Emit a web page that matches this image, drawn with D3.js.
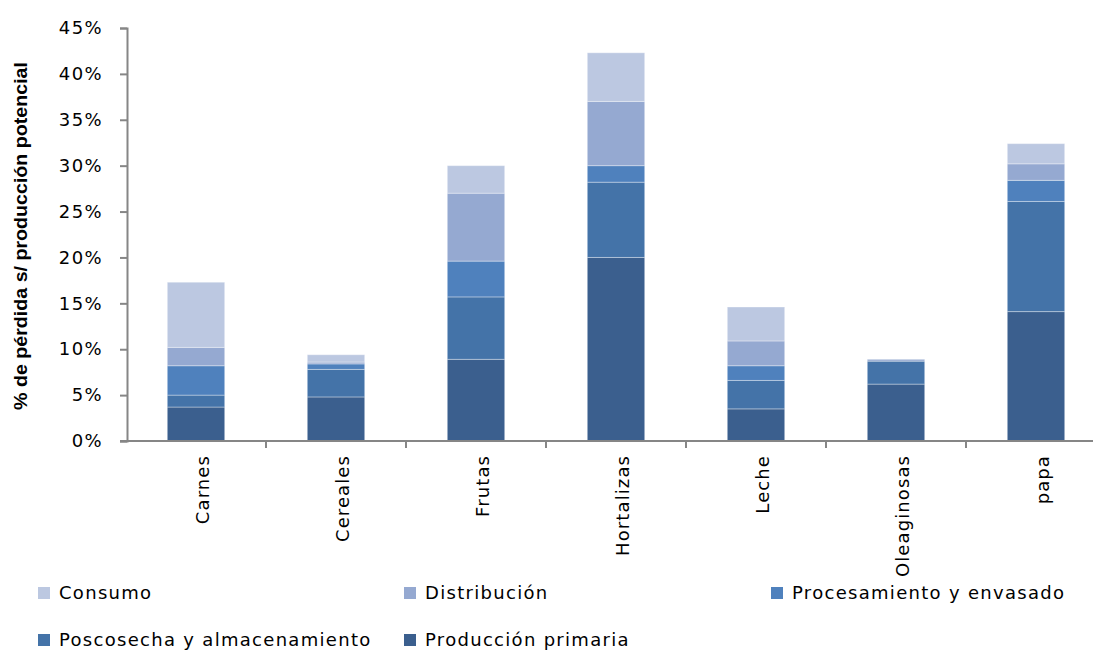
<!DOCTYPE html>
<html>
<head>
<meta charset="utf-8">
<script src="https://cdn.jsdelivr.net/npm/d3@7"></script>
<style>
  body { margin: 0; background: #fff; }
  svg { display: block; }
  .tick text { font-family: "DejaVu Sans", sans-serif; fill: #000; }
</style>
</head>
<body>
<div id="chart"></div>
<script>
const categories = ["Carnes", "Cereales", "Frutas", "Hortalizas", "Leche", "Oleaginosas", "papa"];
// values in % of potential production, bottom to top of each bar
const produccion    = [3.7, 4.8, 8.9, 20.0, 3.5, 6.2, 14.1];
const poscosecha    = [1.3, 3.0, 6.8, 8.2, 3.1, 2.5, 12.0];
const procesamiento = [3.2, 0.6, 3.9, 1.8, 1.6, 0.0, 2.3];
const distribucion  = [2.0, 0.2, 7.4, 7.0, 2.7, 0.2, 1.8];
const consumo       = [7.1, 0.8, 3.0, 5.3, 3.7, 0.0, 2.2];
const yTicks = [0, 5, 10, 15, 20, 25, 30, 35, 40, 45];

const series = [
    { key: "prod", label: "Producción primaria", values: produccion, color: "#3b5f8e" },
    { key: "posc", label: "Poscosecha y almacenamiento", values: poscosecha, color: "#4473a8" },
    { key: "proc", label: "Procesamiento y envasado", values: procesamiento, color: "#4f81bd" },
    { key: "dist", label: "Distribución", values: distribucion, color: "#95a9d1" },
    { key: "cons", label: "Consumo", values: consumo, color: "#bcc8e1" }
];

const rows = categories.map((c, i) => {
    const r = { cat: c };
    series.forEach(s => r[s.key] = s.values[i]);
    return r;
});

const W = 1093, H = 652;
const svg = d3.select("#chart").append("svg")
    .attr("width", W)
    .attr("height", H);

// Scales
const x = d3.scaleBand()
    .domain(categories)
    .range([126, 1106])
    .paddingInner(0.59)
    .paddingOuter(0.295);

const y = d3.scaleLinear()
    .domain([0, 45])
    .range([441, 28]);

// Stacked bars
const stacked = d3.stack().keys(series.map(s => s.key))(rows);

svg.append("g").selectAll("g")
    .data(stacked)
    .enter().append("g")
    .attr("fill", (d, i) => series[i].color)
    .selectAll("rect")
    .data(d => d)
    .enter().append("rect")
    .attr("x", d => x(d.data.cat))
    .attr("width", x.bandwidth())
    .attr("y", d => y(d[1]))
    .attr("height", d => Math.max(0, y(d[0]) - y(d[1])))
    .attr("stroke", "rgba(255,255,255,0.35)")
    .attr("stroke-width", 1);

// Y axis
const yAxis = svg.append("g")
    .attr("transform", "translate(127,0)")
    .call(d3.axisLeft(y).tickValues(yTicks).tickSize(7).tickPadding(17).tickFormat(d => d + "%"));
yAxis.select(".domain").attr("stroke", "#868686").attr("stroke-width", 2);
yAxis.selectAll(".tick line").attr("stroke", "#868686").attr("stroke-width", 2);
yAxis.selectAll(".tick text")
    .style("font-size", "18px")
    .style("letter-spacing", "1.4px");

// X axis line and ticks between categories
svg.append("line")
    .attr("x1", 120).attr("x2", W)
    .attr("y1", 441).attr("y2", 441)
    .attr("stroke", "#868686").attr("stroke-width", 2);

const step = x.step();
svg.append("g").selectAll("line")
    .data(categories.slice(1))
    .enter().append("line")
    .attr("x1", d => x(d) - (step - x.bandwidth()) / 2)
    .attr("x2", d => x(d) - (step - x.bandwidth()) / 2)
    .attr("y1", 441).attr("y2", 448)
    .attr("stroke", "#868686").attr("stroke-width", 2);

// Category labels (rotated)
svg.append("g").selectAll("text")
    .data(categories)
    .enter().append("text")
    .attr("transform", d => `translate(${x(d) + x.bandwidth() / 2 + 13},455) rotate(-90)`)
    .attr("text-anchor", "end")
    .style("font-family", "DejaVu Sans, sans-serif")
    .style("font-size", "18px")
    .style("letter-spacing", "1.1px")
    .text(d => d);

// Y axis title
svg.append("text")
    .attr("transform", "translate(27,236) rotate(-90)")
    .attr("text-anchor", "middle")
    .attr("textLength", 348)
    .attr("lengthAdjust", "spacingAndGlyphs")
    .style("font-family", "Liberation Sans, sans-serif")
    .style("font-weight", "bold")
    .style("font-size", "18px")
    .text("% de pérdida s/ producción potencial");

// Legend
const legendItems = [
    { s: series[4], x: 38, y: 593 },
    { s: series[3], x: 404, y: 593 },
    { s: series[2], x: 771, y: 593 },
    { s: series[1], x: 38, y: 640 },
    { s: series[0], x: 404, y: 640 }
];

const leg = svg.append("g").selectAll("g")
    .data(legendItems)
    .enter().append("g")
    .attr("transform", d => `translate(${d.x},${d.y})`);

leg.append("rect")
    .attr("x", 0).attr("y", -6)
    .attr("width", 12).attr("height", 12)
    .attr("fill", d => d.s.color);

leg.append("text")
    .attr("x", 21)
    .attr("dy", "0.36em")
    .style("font-family", "DejaVu Sans, sans-serif")
    .style("font-size", "18px")
    .style("letter-spacing", "1.3px")
    .text(d => d.s.label);
</script>
</body>
</html>
